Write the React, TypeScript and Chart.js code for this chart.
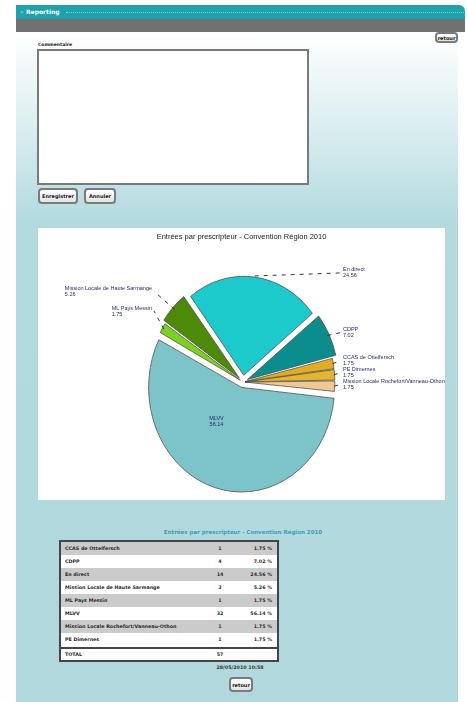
import React, { useEffect, useRef } from "react";
import { Chart, registerables } from "chart.js";

Chart.register(...registerables);

// ---------- data ----------
const CATEGORIES = [
  "CCAS de Ottelfersch",
  "CDPP",
  "En direct",
  "Mission Locale de Haute Sarmange",
  "ML Pays Messin",
  "MLVV",
  "Mission Locale Rochefort/Vanneau-Othon",
  "PE Dimernes",
];
const COUNTS = [1, 4, 14, 3, 1, 32, 1, 1];
const SLICE_COLORS = [
  "#E2AD24",
  "#0B8D8E",
  "#1CC9CB",
  "#4C8A08",
  "#7DCF22",
  "#7CC4CA",
  "#EFC894",
  "#E7B430",
];
const SLICE_OFFSETS = [2, 5, 6, 5, 3, 5, 2, 2];
const CHART_TITLE = "Entrées par prescripteur - Convention Région 2010";
const TABLE_TITLE = "Entrées par prescripteur - Convention Région 2010";
const TOTAL_LABEL = "TOTAL";
const DATE_LABEL = "28/05/2010 10:58";

// ---------- derived ----------
const TOTAL = COUNTS.reduce((a, b) => a + b, 0);
const PERCENTS = COUNTS.map((c) => ((c / TOTAL) * 100).toFixed(2));
// pie is drawn clockwise in reverse table order
const ORDER = CATEGORIES.map((_, i) => CATEGORIES.length - 1 - i);

const RX = 88;
const SCALE_Y = 99 / 88;
const LABEL_FONT = '5.5px "Liberation Sans", sans-serif';
const LABEL_COLOR = "#2b2b6e";

const ellipsePlugin = {
  id: "ellipse",
  beforeDatasetsDraw(chart: any) {
    const arc = chart.getDatasetMeta(0).data[0];
    const ctx = chart.ctx;
    ctx.save();
    ctx.translate(arc.x, arc.y);
    ctx.scale(1, SCALE_Y);
    ctx.translate(-arc.x, -arc.y);
  },
  afterDatasetsDraw(chart: any) {
    chart.ctx.restore();
  },
};

const labelPlugin = {
  id: "pieLabels",
  afterDraw(chart: any) {
    const ctx = chart.ctx;
    const meta = chart.getDatasetMeta(0);
    const labels = chart.data.labels as string[];
    const values = (chart.data.datasets[0] as any).pct as string[];
    const offsets = (chart.data.datasets[0] as any).offsetPx as number[];
    ctx.save();
    ctx.font = '7.5px "Liberation Sans", sans-serif';
    ctx.fillStyle = "#1a1a1a";
    ctx.textAlign = "center";
    ctx.textBaseline = "middle";
    ctx.fillText(CHART_TITLE, chart.width / 2, 9);

    const right: any[] = [];
    const left: any[] = [];
    meta.data.forEach((arc: any, i: number) => {
      const mid = (arc.startAngle + arc.endAngle) / 2;
      const R = arc.outerRadius;
      const off = offsets[i];
      const item = {
        i,
        mid,
        ax: arc.x + Math.cos(mid) * (R + off + 1),
        ay: arc.y + Math.sin(mid) * (R + off + 1) * SCALE_Y,
        cx: arc.x,
        cy: arc.y,
        R,
        span: arc.endAngle - arc.startAngle,
      };
      if (item.span > Math.PI) {
        // inside label
        const lx = arc.x + Math.cos(mid) * R * 0.42;
        const ly = arc.y + Math.sin(mid) * R * 0.42 * SCALE_Y;
        ctx.font = LABEL_FONT;
        ctx.fillStyle = LABEL_COLOR;
        ctx.textAlign = "center";
        ctx.fillText(labels[i], lx - 16, ly - 3);
        ctx.fillText(values[i], lx - 16, ly + 3);
      } else if (Math.cos(mid) >= 0) right.push(item);
      else left.push(item);
    });

    right.sort((a, b) => a.ay - b.ay);
    let last = -1e9;
    right.forEach((it) => {
      it.ly = Math.max(it.ay - 3, last + 12);
      last = it.ly;
    });
    left.sort((a, b) => b.ay - a.ay);
    let lastL = 1e9;
    left.forEach((it) => {
      it.ly = Math.min(it.ay - 18, lastL - 15);
      lastL = it.ly;
    });

    ctx.font = LABEL_FONT;
    right.forEach((it) => {
      const lx = it.cx + it.R + 12;
      ctx.strokeStyle = "#333";
      ctx.lineWidth = 1;
      ctx.setLineDash([4, 5]);
      ctx.beginPath();
      ctx.moveTo(it.ax, it.ay);
      ctx.lineTo(lx - 2, it.ly);
      ctx.stroke();
      ctx.setLineDash([]);
      ctx.fillStyle = LABEL_COLOR;
      ctx.textAlign = "left";
      ctx.fillText(labels[it.i], lx, it.ly - 3);
      ctx.fillText(values[it.i], lx, it.ly + 3);
    });
    left.forEach((it) => {
      const lx = it.cx - it.R - 3;
      ctx.strokeStyle = "#333";
      ctx.lineWidth = 1;
      ctx.setLineDash([4, 5]);
      ctx.beginPath();
      ctx.moveTo(it.ax, it.ay);
      ctx.lineTo(lx + 2, it.ly);
      ctx.stroke();
      ctx.setLineDash([]);
      ctx.fillStyle = LABEL_COLOR;
      ctx.textAlign = "right";
      ctx.fillText(labels[it.i], lx, it.ly - 3);
      ctx.textAlign = "left";
      const w = ctx.measureText(labels[it.i]).width;
      ctx.fillText(values[it.i], lx - w, it.ly + 3);
    });
    ctx.restore();
  },
};

const abs = (l: number, t: number, w: number, h: number): React.CSSProperties => ({
  position: "absolute",
  left: l,
  top: t,
  width: w,
  height: h,
  boxSizing: "border-box",
});

const btn = (l: number, t: number, w: number, h: number, text: string) => (
  <div
    style={{
      ...abs(l, t, w, h),
      border: "2px solid #7a7a7a",
      borderRadius: 4,
      background: "linear-gradient(#ffffff,#e4e4e4)",
      fontSize: 5,
      fontWeight: "bold",
      color: "#222",
      display: "flex",
      alignItems: "center",
      justifyContent: "center",
    }}
  >
    {text}
  </div>
);

export default function App() {
  const canvasRef = useRef<HTMLCanvasElement>(null);

  useEffect(() => {
    const chart = new Chart(canvasRef.current as HTMLCanvasElement, {
      type: "pie",
      data: {
        labels: ORDER.map((i) => CATEGORIES[i]),
        datasets: [
          {
            data: ORDER.map((i) => COUNTS[i]),
            backgroundColor: ORDER.map((i) => SLICE_COLORS[i]),
            // Chart.js draws arcs shifted by offset / 4
            offset: ORDER.map((i) => SLICE_OFFSETS[i] * 4),
            offsetPx: ORDER.map((i) => SLICE_OFFSETS[i]),
            pct: ORDER.map((i) => PERCENTS[i]),
            borderColor: "rgba(70,70,70,0.85)",
            borderWidth: 0.8,
          } as any,
        ],
      },
      options: {
        animation: false,
        responsive: true,
        maintainAspectRatio: false,
        rotation: 82.85,
        radius: RX,
        layout: { padding: { left: 105, right: 102, top: 54, bottom: 18 } },
        plugins: {
          legend: { display: false },
          tooltip: { enabled: false },
          title: { display: false },
        },
      } as any,
      plugins: [ellipsePlugin, labelPlugin],
    });
    return () => chart.destroy();
  }, []);

  const rowTop = 542;
  const rowH = 13;

  return (
    <div
      style={{
        position: "absolute",
        left: 0,
        top: 0,
        width: 467,
        height: 702,
        overflow: "hidden",
        background: "#ffffff",
        fontFamily: '"DejaVu Sans", Verdana, sans-serif',
      }}
    >
      {/* header */}
      <div style={{ ...abs(16, 5, 449, 14), background: "#1ea3ad", borderTopRightRadius: 6 }} />
      <div
        style={{
          ...abs(20, 5, 40, 14),
          color: "#ffffff",
          fontSize: 6,
          fontWeight: "bold",
          lineHeight: "14px",
        }}
      >
        <span style={{ color: "#8fdbe0" }}>» </span>Reporting
      </div>
      <div style={{ ...abs(66, 12, 398, 1), borderTop: "1px dotted #7fd3d9" }} />
      <div style={{ ...abs(16, 19, 449, 13), background: "#717171" }} />
      {/* content */}
      <div
        style={{
          ...abs(16, 32, 442, 670),
          background: "linear-gradient(to bottom, #ffffff 0px, #dcefF1 90px, #b3dadf 190px, #b0d8dd 100%)",
        }}
      />
      {btn(435, 32, 23, 11, "retour")}
      <div style={{ ...abs(38, 42, 60, 6), fontSize: 4.5, fontWeight: "bold", color: "#222" }}>Commentaire</div>
      <div style={{ ...abs(37, 49, 272, 136), border: "2px solid #7a7a7a", background: "#ffffff" }} />
      {btn(38, 188, 40, 16, "Enregistrer")}
      {btn(84, 188, 32, 16, "Annuler")}

      {/* chart */}
      <div style={{ ...abs(38, 228, 407, 272), background: "#ffffff" }}>
        <canvas ref={canvasRef} />
      </div>

      {/* table */}
      <div
        style={{
          ...abs(118, 527, 250, 10),
          fontSize: 5.5,
          fontWeight: "bold",
          color: "#3a9fb8",
          textAlign: "center",
          lineHeight: "10px",
        }}
      >
        {TABLE_TITLE}
      </div>
      <div style={{ ...abs(59, 540, 220, 122), border: "2px solid #454545", background: "#ffffff" }} />
      {CATEGORIES.map((c, i) => (
        <div
          key={c}
          style={{
            ...abs(61, rowTop + i * rowH, 216, rowH),
            background: i % 2 === 0 ? "#cbcbcb" : "#ffffff",
            fontSize: 4.8,
            fontWeight: "bold",
            color: "#2a2a2a",
            lineHeight: rowH + "px",
          }}
        >
          <span style={{ position: "absolute", left: 4 }}>{c}</span>
          <span style={{ position: "absolute", left: 149, width: 20, textAlign: "center" }}>{COUNTS[i]}</span>
          <span style={{ position: "absolute", right: 5 }}>{PERCENTS[i]} %</span>
        </div>
      ))}
      <div style={{ ...abs(61, rowTop + CATEGORIES.length * rowH + 1, 216, 2), background: "#454545" }} />
      <div
        style={{
          ...abs(61, rowTop + CATEGORIES.length * rowH + 3, 216, 12),
          fontSize: 4.8,
          fontWeight: "bold",
          color: "#2a2a2a",
          lineHeight: "12px",
        }}
      >
        <span style={{ position: "absolute", left: 4 }}>{TOTAL_LABEL}</span>
        <span style={{ position: "absolute", left: 149, width: 20, textAlign: "center" }}>{TOTAL}</span>
      </div>
      <div
        style={{
          ...abs(190, 664, 100, 8),
          fontSize: 4.8,
          fontWeight: "bold",
          color: "#333",
          textAlign: "center",
          lineHeight: "8px",
        }}
      >
        {DATE_LABEL}
      </div>
      {btn(229, 677, 24, 15, "retour")}
    </div>
  );
}
